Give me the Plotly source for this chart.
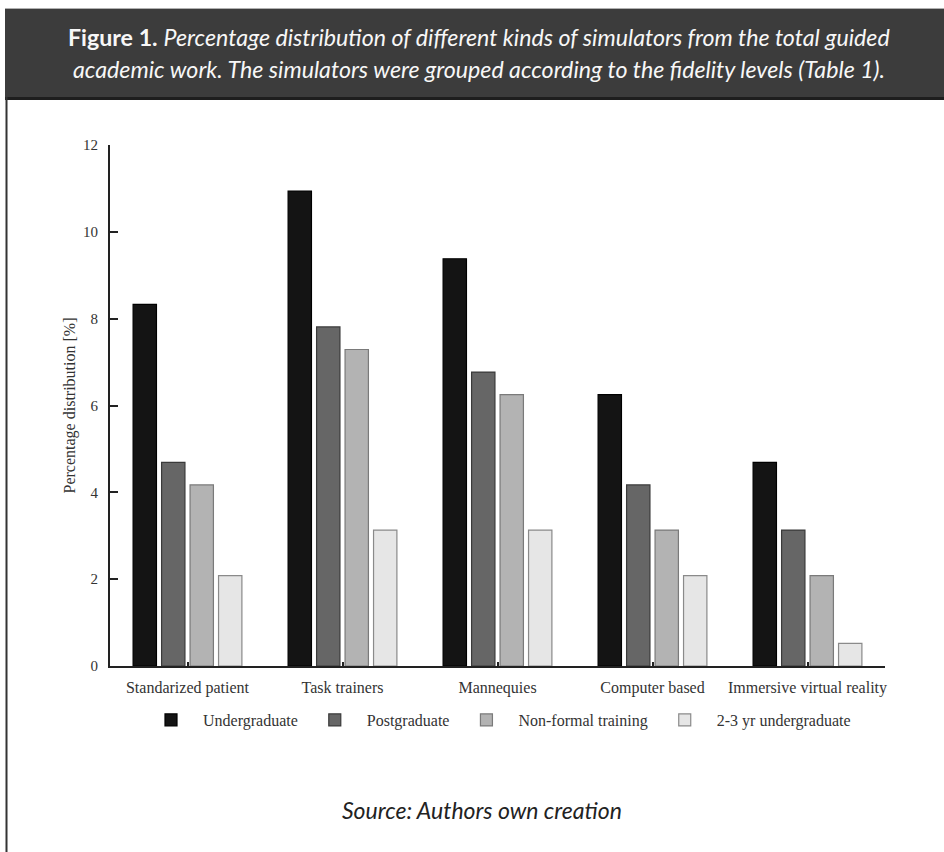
import plotly.graph_objects as go

categories = ["Standarized patient", "Task trainers", "Mannequies", "Computer based", "Immersive virtual reality"]
undergraduate = [8.33, 10.94, 9.38, 6.25, 4.69]
postgraduate = [4.69, 7.81, 6.77, 4.17, 3.13]
non_formal = [4.17, 7.29, 6.25, 3.13, 2.08]
two_three_yr = [2.08, 3.13, 3.13, 2.08, 0.52]
series_names = ["Undergraduate", "Postgraduate", "Non-formal training", "2-3 yr undergraduate"]
y_ticks = [0, 2, 4, 6, 8, 10, 12]

fill_colors = ["#141414", "#666666", "#b3b3b3", "#e6e6e6"]
line_colors = ["#000000", "#3a3a3a", "#7a7a7a", "#8a8a8a"]

W, H = 944, 852
L, R, T, B = 110, 59, 145, 186
PW, PH = W - L - R, H - T - B


def px(x):
    return (x - L) / PW


def py(y):
    return (H - B - y) / PH


SERIF = "Liberation Serif, Times New Roman, serif"
SANS = "Lato, Open Sans, sans-serif"

fig = go.Figure()
for name, vals, fc, lc in zip(series_names, [undergraduate, postgraduate, non_formal, two_three_yr], fill_colors, line_colors):
    fig.add_trace(go.Bar(
        x=categories, y=vals, name=name,
        marker=dict(color=fc, line=dict(color=lc, width=1.2)),
    ))

fig.update_layout(
    width=W, height=H,
    margin=dict(l=L, r=R, t=T, b=B, pad=0),
    paper_bgcolor="white", plot_bgcolor="white",
    barmode="group", bargap=0.265, bargroupgap=0.18,
    font=dict(family=SERIF, size=15, color="#333333"),
    showlegend=True,
    legend=dict(
        orientation="h", x=0.5, xanchor="center", y=py(720), yanchor="middle",
        font=dict(family=SERIF, size=16, color="#333333"),
        bgcolor="rgba(0,0,0,0)", itemwidth=54, traceorder="normal",
    ),
    xaxis=dict(
        type="category", range=[-0.5, 4.5],
        showline=True, linecolor="#222222", linewidth=2,
        ticks="inside", ticklen=4, tickwidth=1.5, tickcolor="#222222",
        showgrid=False, zeroline=False,
        tickfont=dict(family=SERIF, size=16, color="#333333"),
        ticklabelstandoff=6,
    ),
    yaxis=dict(
        range=[0, 12], tickvals=y_ticks,
        showline=True, linecolor="#222222", linewidth=2,
        ticks="inside", ticklen=8, tickwidth=2, tickcolor="#222222",
        showgrid=False, zeroline=False,
        tickfont=dict(family=SERIF, size=15, color="#333333"),
        ticklabelstandoff=7,
        title=dict(text="Percentage distribution [%]", font=dict(family=SERIF, size=16, color="#333333"), standoff=3),
    ),
)

shapes = [
    # header box
    dict(type="rect", xref="paper", yref="paper", x0=px(5), x1=px(960), y0=py(100), y1=py(8),
         fillcolor="#3c3c3c", line=dict(width=0), layer="below"),
    dict(type="line", xref="paper", yref="paper", x0=px(5), x1=px(960), y0=py(98.5), y1=py(98.5),
         line=dict(color="#1e1e1e", width=3)),
    dict(type="line", xref="paper", yref="paper", x0=px(5), x1=px(960), y0=py(8.5), y1=py(8.5),
         line=dict(color="#b0b0b0", width=1)),
    # outer frame left line
    dict(type="line", xref="paper", yref="paper", x0=px(6.5), x1=px(6.5), y0=py(97), y1=py(860),
         line=dict(color="#333333", width=2)),
]
fig.update_layout(shapes=shapes)

annotations = [
    dict(text="<b>Figure 1.</b> <i>Percentage distribution of different kinds of simulators from the total guided</i>",
         xref="paper", yref="paper", x=px(479), y=py(37), xanchor="center", yanchor="middle",
         showarrow=False, font=dict(family=SANS, size=23.2, color="#f7f7f7")),
    dict(text="<i>academic work. The simulators were grouped according to the fidelity levels (Table 1).</i>",
         xref="paper", yref="paper", x=px(479), y=py(69), xanchor="center", yanchor="middle",
         showarrow=False, font=dict(family=SANS, size=23.2, color="#f7f7f7")),
    dict(text="<i>Source: Authors own creation</i>",
         xref="paper", yref="paper", x=px(482), y=py(810), xanchor="center", yanchor="middle",
         showarrow=False, font=dict(family=SANS, size=23, color="#222222")),
]
fig.update_layout(annotations=annotations)

fig.write_html(
    "out.html",
    config={"displayModeBar": False},
    post_script="document.body.style.margin='0px';document.body.style.overflow='hidden';",
)
